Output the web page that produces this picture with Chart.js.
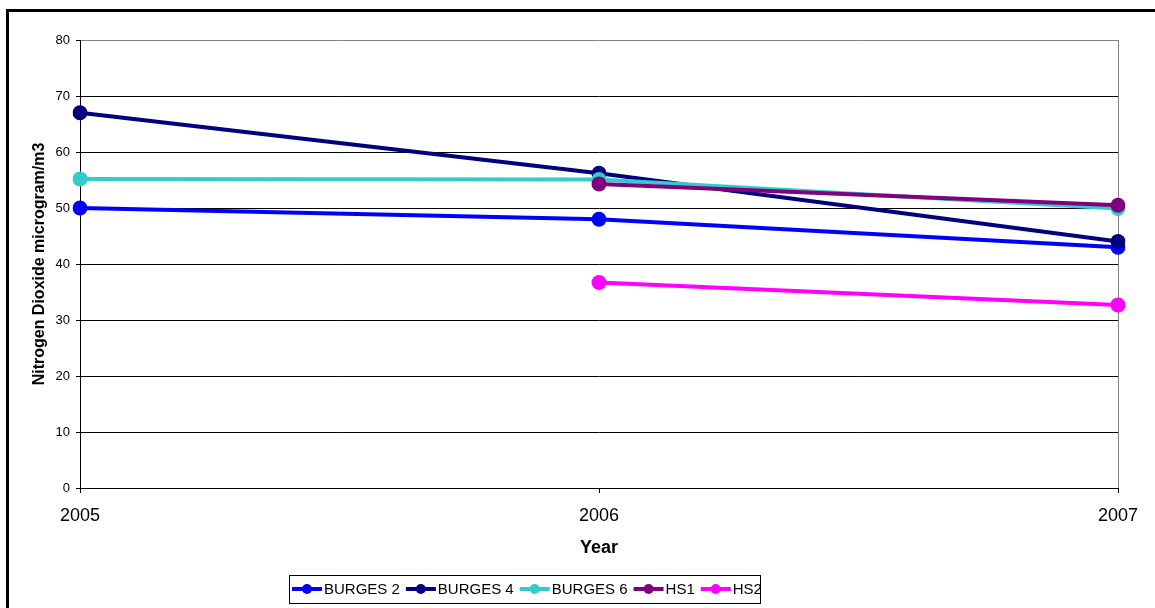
<!DOCTYPE html>
<html>
<head>
<meta charset="utf-8">
<title>Nitrogen Dioxide</title>
<script src="https://cdn.jsdelivr.net/npm/chart.js@4/dist/chart.umd.min.js"></script>
<style>
  html, body { margin: 0; padding: 0; background: #fff; overflow: hidden; }
  #wrap { position: relative; width: 1155px; height: 608px; }
  #frame { position: absolute; left: 6px; top: 9px; width: 1200px; height: 700px; border: 3px solid #000; pointer-events: none; }
  canvas { position: absolute; left: 0; top: 0; }
</style>
</head>
<body>
<div id="wrap">
  <canvas id="chartCanvas" width="1155" height="608"></canvas>
  <div id="frame"></div>
</div>
<script>
const years = ["2005", "2006", "2007"];
const seriesNames = ["BURGES 2", "BURGES 4", "BURGES 6", "HS1", "HS2"];
const burges2 = [50, 48, 43];
const burges4 = [67, 56.2, 44];
const burges6 = [55.2, 55.1, 49.9];
const hs1 = [null, 54.3, 50.5];
const hs2 = [null, 36.7, 32.7];
const yTicks = [0, 10, 20, 30, 40, 50, 60, 70, 80];
const seriesColors = ["#0000ff", "#000080", "#33cccc", "#800080", "#ff00ff"];

const seriesValues = [burges2, burges4, burges6, hs1, hs2];

// legend drawn by hand: line + dot sample, then the name, all in one boxed row
const boxLegend = {
  id: "boxLegend",
  afterDraw(chart) {
    const ctx = chart.ctx;
    const y = 589;
    ctx.save();
    ctx.strokeStyle = "#000";
    ctx.lineWidth = 1;
    ctx.strokeRect(289.5, 575.5, 471, 28);
    ctx.font = "15px Arial, 'Liberation Sans', sans-serif";
    ctx.textBaseline = "middle";
    let x = 292;
    chart.data.datasets.forEach(ds => {
      ctx.strokeStyle = ds.borderColor;
      ctx.lineWidth = 4;
      ctx.beginPath();
      ctx.moveTo(x, y);
      ctx.lineTo(x + 30, y);
      ctx.stroke();
      ctx.fillStyle = ds.borderColor;
      ctx.beginPath();
      ctx.arc(x + 15, y, 5, 0, Math.PI * 2);
      ctx.fill();
      ctx.fillStyle = "#000";
      ctx.fillText(ds.label, x + 32, y + 1);
      x += 32 + ctx.measureText(ds.label).width + 6;
    });
    ctx.restore();
  }
};

const ctx = document.getElementById("chartCanvas").getContext("2d");
new Chart(ctx, {
  type: "line",
  data: {
    labels: years,
    datasets: seriesNames.map((name, i) => ({
      label: name,
      data: seriesValues[i],
      borderColor: seriesColors[i],
      backgroundColor: seriesColors[i],
      borderWidth: 4,
      pointRadius: 7.5,
      pointBorderWidth: 0,
      pointBackgroundColor: seriesColors[i],
      tension: 0,
      fill: false,
      order: seriesNames.length - i
    }))
  },
  options: {
    responsive: false,
    animation: false,
    layout: { padding: { top: 40, right: 37, left: 0, bottom: 0 } },
    plugins: { legend: { display: false }, tooltip: { enabled: false } },
    scales: {
      x: {
        type: "category",
        offset: false,
        afterFit(scale) { scale.height = 120; },
        grid: {
          drawOnChartArea: true,
          color: c => (c.index === years.length - 1 ? "#808080" : "rgba(0,0,0,0)"),
          tickColor: "#000",
          tickLength: 5
        },
        border: { color: "#000", width: 1 },
        ticks: {
          color: "#000",
          font: { family: "Arial, 'Liberation Sans', sans-serif", size: 18 },
          padding: 12,
          maxRotation: 0
        },
        title: {
          display: true,
          text: "Year",
          color: "#000",
          font: { family: "Arial, 'Liberation Sans', sans-serif", size: 18, weight: "bold" },
          padding: { top: 0, bottom: 49 }
        }
      },
      y: {
        min: 0,
        max: 80,
        afterFit(scale) { scale.width = 80; },
        afterBuildTicks(scale) { scale.ticks = yTicks.map(v => ({ value: v })); },
        grid: {
          color: c => (c.tick && c.tick.value === 80 ? "#808080" : "#000"),
          tickColor: "#000",
          tickLength: 4
        },
        border: { color: "#000", width: 1 },
        ticks: {
          color: "#000",
          font: { family: "Arial, 'Liberation Sans', sans-serif", size: 13 },
          padding: 6
        },
        title: {
          display: true,
          text: "Nitrogen Dioxide microgram/m3",
          color: "#000",
          font: { family: "Arial, 'Liberation Sans', sans-serif", size: 16, weight: "bold" },
          padding: { top: 30, bottom: 0 }
        }
      }
    }
  },
  plugins: [boxLegend]
});
</script>
</body>
</html>
